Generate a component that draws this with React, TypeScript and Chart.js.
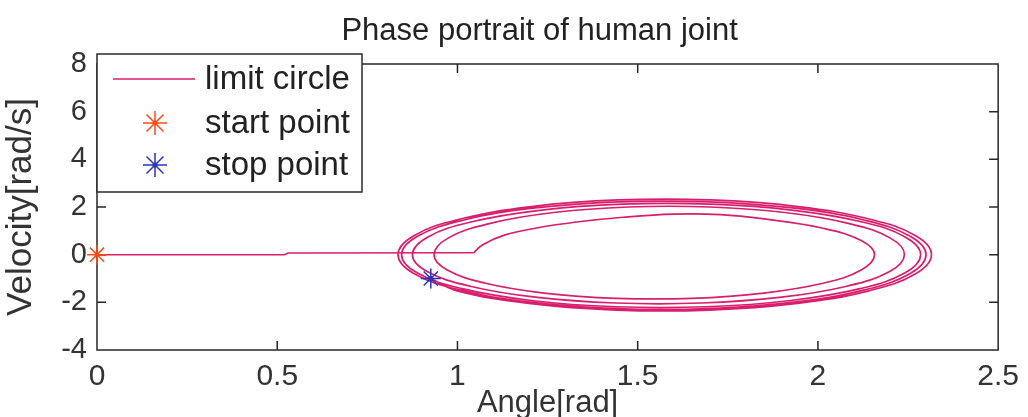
import React, { useEffect, useRef } from "react";
import { Chart, registerables } from "chart.js";

Chart.register(...registerables);

// ---- data ----
const approachAngle = [0, 0.52, 0.53, 1.045];
const approachVelocity = [0, 0, 0.07, 0.08];

const loop1Angle = [1.045, 1.07, 1.13, 1.22, 1.33, 1.46, 1.6, 1.73, 1.85, 2.014, 2.12, 2.157, 2.12, 2.014, 1.85, 1.652, 1.44, 1.24, 1.078, 0.972, 0.935];
const loop1Velocity = [0.08, 0.42, 0.82, 1.12, 1.37, 1.57, 1.7, 1.68, 1.5, 1.11, 0.59, 0, -0.64, -1.2, -1.61, -1.83, -1.83, -1.61, -1.2, -0.64, 0];

const loop2Angle = [0.974, 1.088, 1.261, 1.474, 1.701, 1.914, 2.087, 2.201, 2.24, 2.199, 2.08, 1.899, 1.676, 1.439, 1.216, 1.035, 0.916, 0.875];
const loop2Velocity = [0.694, 1.305, 1.758, 2.0, 2.0, 1.758, 1.305, 0.694, 0, -0.705, -1.324, -1.784, -2.029, -2.029, -1.784, -1.324, -0.705, 0];

const loop3Angle = [0.917, 1.04, 1.228, 1.457, 1.703, 1.933, 2.12, 2.243, 2.285, 2.242, 2.117, 1.925, 1.69, 1.44, 1.205, 1.013, 0.888, 0.845];
const loop3Velocity = [0.735, 1.382, 1.862, 2.117, 2.117, 1.862, 1.382, 0.735, 0, -0.759, -1.427, -1.923, -2.186, -2.186, -1.923, -1.427, -0.759, 0];

const loop4Angle = [0.889, 1.015, 1.209, 1.446, 1.699, 1.936, 2.13, 2.256, 2.3, 2.256, 2.129, 1.934, 1.695, 1.44, 1.201, 1.006, 0.879, 0.835];
const loop4Velocity = [0.77, 1.446, 1.949, 2.216, 2.216, 1.949, 1.446, 0.77, 0, -0.787, -1.478, -1.992, -2.265, -2.265, -1.992, -1.478, -0.787, 0];

const loop5Angle = [0.879, 1.008, 1.205, 1.446, 1.704, 1.945, 2.142, 2.271, 2.315, 2.27, 2.141, 1.943, 1.7, 1.44, 1.198, 0.999, 0.926];
const loop5Velocity = [0.797, 1.498, 2.018, 2.295, 2.295, 2.018, 1.498, 0.797, 0, -0.807, -1.517, -2.044, -2.324, -2.324, -2.044, -1.517, -1.0];

const startPoint = { angle: 0, velocity: 0 };
const stopPoint = { angle: 0.926, velocity: -1.0 };

const titleText = "Phase portrait of human joint";
const legendLabels = ["limit circle", "start point", "stop point"];
const xTickLabels = ["0", "0.5", "1", "1.5", "2", "2.5"];
const yTickLabels = ["-4", "-2", "0", "2", "4", "6", "8"];

const LINE_COLOR = "#d91e6e";
const START_COLOR = "#ff4a1a";
const STOP_COLOR = "#2a35b8";
const FONT = "'Liberation Sans', Arial, Helvetica, sans-serif";

function toPoints(xs: number[], ys: number[]) {
  return xs.map((x, i) => ({ x, y: ys[i] }));
}

function drawStar(ctx: CanvasRenderingContext2D, x: number, y: number, r: number, color: string) {
  ctx.save();
  ctx.strokeStyle = color;
  ctx.lineWidth = 1.5;
  ctx.beginPath();
  for (let k = 0; k < 4; k++) {
    const a = (k * Math.PI) / 4;
    ctx.moveTo(x - r * Math.cos(a), y - r * Math.sin(a));
    ctx.lineTo(x + r * Math.cos(a), y + r * Math.sin(a));
  }
  ctx.stroke();
  ctx.fillStyle = color;
  ctx.beginPath();
  ctx.arc(x, y, 2.5, 0, Math.PI * 2);
  ctx.fill();
  ctx.restore();
}

const framePlugin = {
  id: "frame",
  afterDatasetsDraw(chart: any) {
    const { ctx, chartArea: a, scales } = chart;
    ctx.save();
    ctx.strokeStyle = "#262626";
    ctx.lineWidth = 1.5;
    ctx.strokeRect(a.left, a.top, a.right - a.left, a.bottom - a.top);
    ctx.beginPath();
    const L = 9;
    scales.x.ticks.forEach((t: any) => {
      const px = scales.x.getPixelForValue(t.value);
      if (px <= a.left + 1 || px >= a.right - 1) return;
      ctx.moveTo(px, a.bottom);
      ctx.lineTo(px, a.bottom - L);
      ctx.moveTo(px, a.top);
      ctx.lineTo(px, a.top + L);
    });
    scales.y.ticks.forEach((t: any) => {
      const py = scales.y.getPixelForValue(t.value);
      if (py <= a.top + 1 || py >= a.bottom - 1) return;
      ctx.moveTo(a.left, py);
      ctx.lineTo(a.left + L, py);
      ctx.moveTo(a.right, py);
      ctx.lineTo(a.right - L, py);
    });
    ctx.stroke();
    // title centred over the axes box
    ctx.fillStyle = "#222222";
    ctx.font = `31px ${FONT}`;
    ctx.textAlign = "center";
    ctx.textBaseline = "alphabetic";
    ctx.fillText(titleText, (a.left + a.right) / 2 - 8, 40);
    ctx.restore();
  },
};

const legendPlugin = {
  id: "boxLegend",
  afterDraw(chart: any) {
    const { ctx, chartArea: a } = chart;
    const left = a.left;
    const top = a.top - 10;
    const w = 265;
    const h = 138;
    ctx.save();
    ctx.fillStyle = "#ffffff";
    ctx.fillRect(left, top, w, h);
    ctx.strokeStyle = "#2a2a2a";
    ctx.lineWidth = 1.5;
    ctx.strokeRect(left, top, w, h);
    const rows = [top + 25, top + 69, top + 111];
    ctx.strokeStyle = LINE_COLOR;
    ctx.lineWidth = 1.5;
    ctx.beginPath();
    ctx.moveTo(left + 16, rows[0]);
    ctx.lineTo(left + 98, rows[0]);
    ctx.stroke();
    drawStar(ctx, left + 58, rows[1], 12, START_COLOR);
    drawStar(ctx, left + 58, rows[2], 12, STOP_COLOR);
    ctx.fillStyle = "#222222";
    ctx.font = `33px ${FONT}`;
    ctx.textBaseline = "middle";
    ctx.textAlign = "left";
    legendLabels.forEach((lab, i) => ctx.fillText(lab, left + 108, rows[i] + 1));
    ctx.restore();
  },
};

const markerPlugin = {
  id: "markers",
  afterDatasetsDraw(chart: any) {
    const { ctx, scales } = chart;
    chart.data.datasets.forEach((ds: any) => {
      if (!ds.starColor) return;
      ds.data.forEach((p: any) => {
        drawStar(ctx, scales.x.getPixelForValue(p.x), scales.y.getPixelForValue(p.y), 10, ds.starColor);
      });
    });
  },
};

export default function App() {
  const ref = useRef<HTMLCanvasElement>(null);
  useEffect(() => {
    document.body.style.margin = "0";
    document.body.style.background = "#ffffff";
    const cycleAngle = [...loop1Angle, ...loop2Angle, ...loop3Angle, ...loop4Angle, ...loop5Angle];
    const cycleVelocity = [...loop1Velocity, ...loop2Velocity, ...loop3Velocity, ...loop4Velocity, ...loop5Velocity];
    const chart = new Chart(ref.current as HTMLCanvasElement, {
      type: "scatter",
      data: {
        datasets: [
          {
            label: legendLabels[0],
            data: toPoints(approachAngle, approachVelocity),
            showLine: true,
            borderColor: LINE_COLOR,
            borderWidth: 1.5,
            pointRadius: 0,
            tension: 0,
          },
          {
            label: legendLabels[0],
            data: toPoints(cycleAngle, cycleVelocity),
            showLine: true,
            borderColor: LINE_COLOR,
            borderWidth: 1.7,
            pointRadius: 0,
            tension: 0.4,
          },
          {
            label: legendLabels[1],
            data: [{ x: startPoint.angle, y: startPoint.velocity }],
            pointRadius: 0,
            starColor: START_COLOR,
          } as any,
          {
            label: legendLabels[2],
            data: [{ x: stopPoint.angle, y: stopPoint.velocity }],
            pointRadius: 0,
            starColor: STOP_COLOR,
          } as any,
        ],
      },
      options: {
        animation: false,
        responsive: true,
        maintainAspectRatio: false,
        layout: { padding: { left: 0, right: 27, top: 64, bottom: 0 } },
        plugins: {
          legend: { display: false },
          tooltip: { enabled: false },
          title: { display: false },
        },
        scales: {
          x: {
            type: "linear",
            min: 0,
            max: 2.5,
            grid: { display: false, drawTicks: false },
            border: { display: false },
            afterFit: (s: any) => {
              s.height = 67;
            },
            ticks: {
              stepSize: 0.5,
              padding: 9,
              color: "#333333",
              font: { family: FONT, size: 30 },
              callback: (_v: any, i: number) => xTickLabels[i],
            },
            title: {
              display: true,
              text: "Angle[rad]",
              color: "#333333",
              font: { family: FONT, size: 31, lineHeight: 0.9 },
              padding: 0,
            },
          },
          y: {
            type: "linear",
            min: -4,
            max: 8,
            grid: { display: false, drawTicks: false },
            border: { display: false },
            afterFit: (s: any) => {
              s.width = 97;
            },
            ticks: {
              stepSize: 2,
              padding: 10,
              color: "#333333",
              font: { family: FONT, size: 29 },
              callback: (_v: any, i: number) => yTickLabels[i],
            },
            title: {
              display: true,
              text: "Velocity[rad/s]",
              color: "#333333",
              font: { family: FONT, size: 35, lineHeight: 1.2 },
              padding: 0,
            },
          },
        },
      } as any,
      plugins: [framePlugin, markerPlugin, legendPlugin],
    });
    return () => chart.destroy();
  }, []);
  return (
    <div style={{ width: 1028, height: 417, position: "relative", background: "#fff" }}>
      <canvas ref={ref} />
    </div>
  );
}
